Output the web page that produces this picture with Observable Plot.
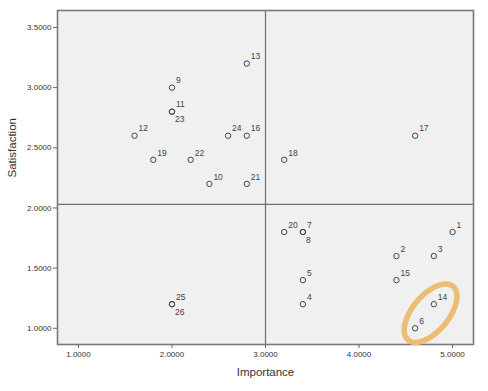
<!DOCTYPE html>
<html>
<head>
<meta charset="utf-8">
<script src="https://cdn.jsdelivr.net/npm/d3@7"></script>
<script src="https://cdn.jsdelivr.net/npm/@observablehq/plot@0.6"></script>
<style>
  html, body { margin: 0; padding: 0; background: #fff; }
  #chart { width: 488px; height: 391px; }
</style>
</head>
<body>
<div id="chart"></div>
<script>
// Item numbers, importance and satisfaction values
const items        = [1, 2, 3, 4, 5, 6, 7, 8, 9, 10, 11, 12, 13, 14, 15, 16, 17, 18, 19, 20, 21, 22, 23, 24, 25, 26];
const importance   = [5.0, 4.4, 4.8, 3.4, 3.4, 4.6, 3.4, 3.4, 2.0, 2.4, 2.0, 1.6, 2.8, 4.8, 4.4, 2.8, 4.6, 3.2, 1.8, 3.2, 2.8, 2.2, 2.0, 2.6, 2.0, 2.0];
const satisfaction = [1.8, 1.6, 1.6, 1.2, 1.4, 1.0, 1.8, 1.8, 3.0, 2.2, 2.8, 2.6, 3.2, 1.2, 1.4, 2.6, 2.6, 2.4, 2.4, 1.8, 2.2, 2.4, 2.8, 2.6, 1.2, 1.2];
// items whose label sits below their (overlapping) marker
const labelBelow   = [8, 23, 26];
// reference lines
const refImportance   = [3.0];
const refSatisfaction = [2.03];
// tick values
const xTicks = [1, 2, 3, 4, 5];
const yTicks = [1.0, 1.5, 2.0, 2.5, 3.0, 3.5];
// highlighted items (orange ellipse)
const highlighted = [14, 6];

const data = items.map((id, i) => ({id, importance: importance[i], satisfaction: satisfaction[i], below: labelBelow.includes(id)}));

const W = 488, H = 391;
const mL = 57, mR = 15, mT = 10, mB = 47;
const xDomain = [0.776, 5.224];
const yDomain = [0.865, 3.641];

// ellipse annotation around highlighted items, shaped in screen space
const hl = data.filter(d => highlighted.includes(d.id));
const kx = (W - mL - mR) / (xDomain[1] - xDomain[0]);
const ky = (H - mT - mB) / (yDomain[1] - yDomain[0]);
const cx = d3.mean(hl, d => d.importance) + 0.065;
const cy = d3.mean(hl, d => d.satisfaction) + 0.025;
const semiA = 35, semiB = 18, ang = 50 * Math.PI / 180;
const ellipse = d3.range(0, 73).map(k => {
  const t = k / 72 * 2 * Math.PI;
  const px = semiA * Math.cos(t) * Math.cos(ang) - semiB * Math.sin(t) * Math.sin(ang);
  const py = semiA * Math.cos(t) * Math.sin(ang) + semiB * Math.sin(t) * Math.cos(ang);
  return {x: cx + px / kx, y: cy + py / ky};
});

const font = "'Liberation Sans', Arial, sans-serif";

const chart = Plot.plot({
  width: W,
  height: H,
  marginLeft: mL,
  marginRight: mR,
  marginTop: mT,
  marginBottom: mB,
  style: {fontFamily: font, background: "#fff", color: "#333"},
  x: {domain: xDomain},
  y: {domain: yDomain},
  marks: [
    Plot.frame({fill: "#f0f0f0", stroke: "none"}),
    Plot.ruleX(refImportance, {stroke: "#6e6e6e", strokeWidth: 1.2}),
    Plot.ruleY(refSatisfaction, {stroke: "#6e6e6e", strokeWidth: 1.2}),
    Plot.frame({stroke: "#7a7a7a", strokeWidth: 1.6}),
    Plot.axisX({ticks: xTicks, tickFormat: d3.format(".4f"), tickSize: 4, tickPadding: 3, fontSize: 8, stroke: "#666", label: null}),
    Plot.axisY({ticks: yTicks, tickFormat: d3.format(".4f"), tickSize: 4, tickPadding: 2, fontSize: 8, stroke: "#666", label: null}),
    Plot.text(["Importance"], {frameAnchor: "bottom", dy: 31, fontSize: 11.5, fill: "#333"}),
    Plot.text(["Satisfaction"], {frameAnchor: "left", dx: -45, rotate: -90, fontSize: 11.5, fill: "#333"}),
    Plot.line(ellipse, {x: "x", y: "y", stroke: "#edbd74", strokeWidth: 5.5, curve: "linear-closed"}),
    Plot.dot(data, {x: "importance", y: "satisfaction", r: 2.7, stroke: "#444", strokeWidth: 1, fill: "none"}),
    Plot.text(data.filter(d => !d.below), {x: "importance", y: "satisfaction", text: "id", textAnchor: "start", dx: 4, dy: -7, fontSize: 8.5, fill: "#444"}),
    Plot.text(data.filter(d => d.below), {x: "importance", y: "satisfaction", text: "id", textAnchor: "start", dx: 3, dy: 8, fontSize: 8.5, fill: "#444"})
  ]
});

document.getElementById("chart").appendChild(chart);
</script>
</body>
</html>
